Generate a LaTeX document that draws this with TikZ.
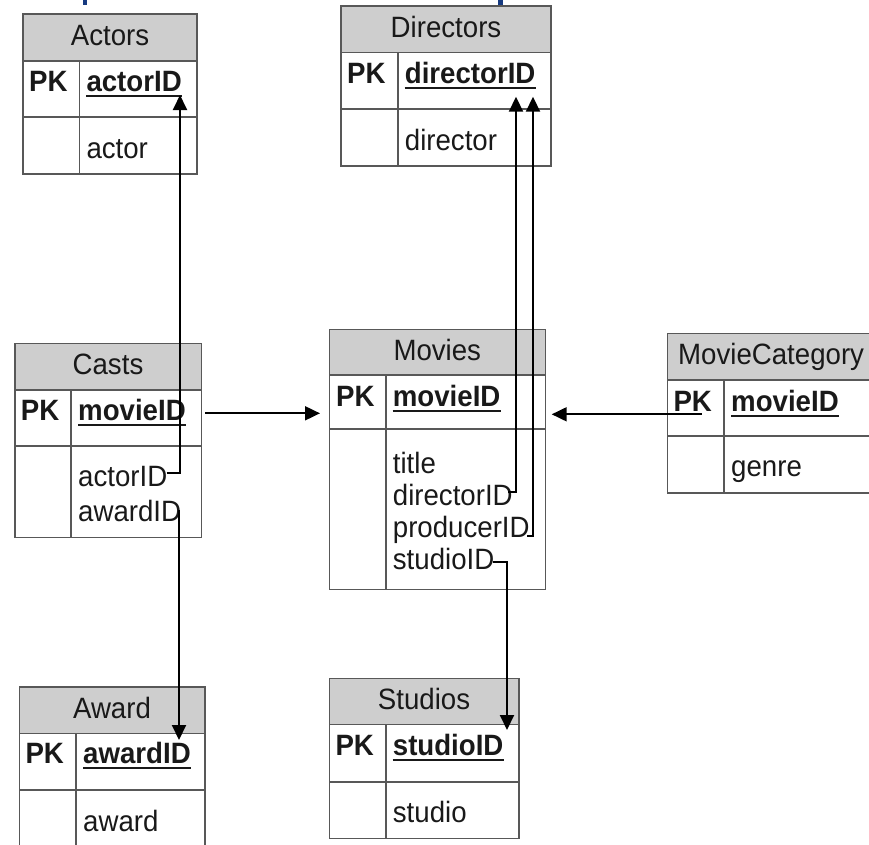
\documentclass[tikz,border=0pt]{standalone}
\usepackage{fontspec}
\setmainfont[FakeStretch=0.94]{Liberation Sans}
\usetikzlibrary{arrows.meta}
\definecolor{hdrgray}{RGB}{206,206,206}
\definecolor{framegray}{RGB}{88,88,88}
\definecolor{txtblack}{RGB}{25,25,25}
\definecolor{titleblue}{RGB}{22,58,128}
\newcommand{\fsz}{\fontsize{29.4}{32}\selectfont}
\newcommand{\ertbl}[7]{% L T R H P B D
  \fill[hdrgray] (#1,#2) rectangle (#3,#4);
  \draw[frame] (#1,#2) rectangle (#3,#6);
  \draw[frame] (#1,#4) -- (#3,#4);
  \draw[frame] (#1,#5) -- (#3,#5);
  \draw[frame] (#7,#4) -- (#7,#6);
}
\tikzset{
  frame/.style={draw=framegray, line width=1.6pt},
  hdrtxt/.style={inner sep=0pt, anchor=base, font=\fsz, text=txtblack},
  fldtxt/.style={inner sep=0pt, anchor=base west, font=\fsz, text=txtblack},
  pktxt/.style={inner sep=0pt, anchor=base west, font=\fsz\bfseries, text=txtblack},
  uline/.style={draw=txtblack, line width=2.2pt},
  conn/.style={draw=black, line width=1.9pt, -{Triangle[length=15pt,width=14pt]}},
}
\newcommand{\ul}[1]{\draw[uline] ([yshift=-4.6pt]#1.base west) -- ([yshift=-4.6pt]#1.base east);}
\begin{document}
\begin{tikzpicture}[x=1pt,y=-1pt]
\useasboundingbox (0,0) rectangle (869,844);
\clip (0,0) rectangle (869,844);
% cut-off title marks
\fill[titleblue] (82.7,-2) rectangle (87.3,4.7);
\fill[titleblue] (497.7,-2) rectangle (503.3,4.7);

% Actors
\ertbl{23}{14}{197}{60.7}{117}{174}{79.3}
\node[hdrtxt] (actH) at (110,45.5) {Actors};
\node[pktxt] (actPK) at (29,91) {PK};
\node[pktxt] (actKey) at (86.3,91) {actorID};
\ul{actKey}
\node[fldtxt] (actF) at (86.3,158) {actor};

% Directors
\ertbl{341}{5.7}{551}{52.3}{109}{165.7}{397.7}
\node[hdrtxt] (dirH) at (446,37.2) {Directors};
\node[pktxt] (dirPK) at (347,83) {PK};
\node[pktxt] (dirKey) at (404.7,83) {directorID};
\ul{dirKey}
\node[fldtxt] (dirF) at (404.7,150) {director};

% Casts
\ertbl{14.7}{343.3}{201.3}{390}{445.7}{537.3}{71}
\node[hdrtxt] (casH) at (108,374.8) {Casts};
\node[pktxt] (casPK) at (20.7,420) {PK};
\node[pktxt] (casKey) at (78,420) {movieID};
\ul{casKey}
\node[fldtxt] (casActor) at (78,486.7) {actorID};
\node[fldtxt] (casAward) at (78,521.7) {awardID};

% Movies
\ertbl{329.3}{329.3}{545.3}{375}{429}{589.3}{385.7}
\node[hdrtxt] (movH) at (437.3,360.8) {Movies};
\node[pktxt] (movPK) at (336,406) {PK};
\node[pktxt] (movKey) at (392.7,406) {movieID};
\ul{movKey}
\node[fldtxt] (movTitle) at (392.7,473) {title};
\node[fldtxt] (movDir) at (392.7,505) {directorID};
\node[fldtxt] (movProd) at (392.7,537) {producerID};
\node[fldtxt] (movStudio) at (392.7,569) {studioID};

% MovieCategory
\ertbl{667.3}{333.3}{880}{380}{436}{492.7}{724}
\node[fldtxt] (catH) at (678,364.8) {MovieCategory};
\node[pktxt] (catPK) at (673.3,411) {PK};
\node[pktxt] (catKey) at (731,411) {movieID};
\ul{catKey}
\node[fldtxt] (catF) at (731,476.7) {genre};

% Award
\ertbl{19.3}{686.7}{205}{733.3}{790}{870}{76}
\node[hdrtxt] (awdH) at (112,718.2) {Award};
\node[pktxt] (awdPK) at (25.3,763.3) {PK};
\node[pktxt] (awdKey) at (83,763.3) {awardID};
\ul{awdKey}
\node[fldtxt] (awdF) at (83,831.7) {award};

% Studios
\ertbl{329.3}{678.3}{519}{724.3}{781.7}{838.3}{385.7}
\node[hdrtxt] (stuH) at (424,709.8) {Studios};
\node[pktxt] (stuPK) at (335.3,755.5) {PK};
\node[pktxt] (stuKey) at (392.7,755.5) {studioID};
\ul{stuKey}
\node[fldtxt] (stuF) at (392.7,822) {studio};

% connector end points
\coordinate (cActS) at (166.7,473.3);
\coordinate (cActT) at (180,95);
\coordinate (cAwdS) at (179,510);
\coordinate (cAwdT) at (179,740);
\coordinate (cMovS) at (205,413.3);
\coordinate (cMovT) at (320,413.3);
\coordinate (mDirS) at (508,491.7);
\coordinate (mDirT) at (516,96.7);
\coordinate (mProdS) at (527,536);
\coordinate (mProdT) at (533,96.7);
\coordinate (mStuS) at (493,562);
\coordinate (mStuT) at (507,730);
\coordinate (catS) at (701.7,414.3);
\coordinate (catT) at (551.7,414.3);

\draw[conn] (cActS) -| (cActT);
\draw[conn] (cAwdS) -- (cAwdT);
\draw[conn] (cMovS) -- (cMovT);
\draw[conn] (mDirS) -| (mDirT);
\draw[conn] (mProdS) -| (mProdT);
\draw[conn] (mStuS) -| (mStuT);
\draw[conn] (catS) -- (catT);
\end{tikzpicture}
\end{document}
